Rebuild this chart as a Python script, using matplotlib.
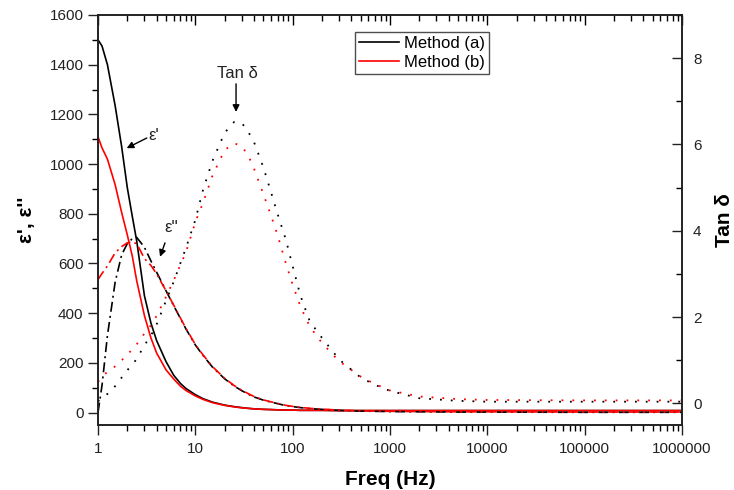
import matplotlib
matplotlib.use('Agg')
import matplotlib.pyplot as plt
from matplotlib.ticker import FixedLocator, FuncFormatter, MultipleLocator, LogLocator, NullFormatter

plt.rcParams['font.family'] = ['Liberation Sans', 'DejaVu Sans']

# frequency grid (Hz)
freq = [1, 1.1, 1.25, 1.5, 1.75, 2, 2.25, 2.5, 3, 3.5, 4, 5, 6, 7, 8, 10, 12, 15, 20, 25,
        30, 35, 40, 50, 60, 70, 85, 100, 120, 150, 200, 300, 500, 700, 1000, 2000, 5000,
        1e4, 1e5, 1e6]

# eps' (real part)
eps1_a = [1500, 1475, 1400, 1235, 1070, 905, 790, 690, 470, 360, 290, 205, 150, 118, 97, 72,
          56, 42, 30, 24, 20, 17, 15, 13, 12, 11, 10, 10, 9, 9, 9, 8, 8, 8, 8, 8, 8, 8, 8, 8]
eps1_b = [1110, 1065, 1020, 917, 805, 715, 630, 530, 390, 300, 240, 172, 135, 107, 89, 67,
          53, 40, 29, 23, 19, 17, 15, 13, 12, 11, 10, 10, 9, 9, 9, 8, 8, 8, 8, 8, 8, 8, 8, 8]

# eps'' (imaginary part)
eps2_a = [0, 110, 310, 525, 635, 680, 700, 705, 665, 610, 565, 490, 430, 380, 337, 272,
          230, 183, 136, 107, 88, 74, 63, 50, 42, 36, 28, 24, 20, 16, 13, 9, 6, 5, 4, 3, 2,
          2, 1, 1]
eps2_b = [535, 560, 590, 643, 668, 683, 686, 680, 620, 592, 558, 490, 432, 382, 339, 274,
          232, 185, 138, 109, 90, 76, 65, 51, 43, 37, 29, 25, 21, 17, 14, 10, 7, 6, 5, 4, 3,
          3, 2, 2]

# tan delta
tan_a = [0.05, 0.12, 0.22, 0.4, 0.6, 0.77, 0.9, 1.03, 1.35, 1.57, 1.83, 2.38, 2.82, 3.24,
         3.6, 4.25, 4.95, 5.62, 6.27, 6.52, 6.5, 6.29, 6.06, 5.47, 4.89, 4.39, 3.8, 3.18,
         2.5, 1.9, 1.52, 1.02, 0.6, 0.43, 0.29, 0.12, 0.06, 0.04, 0.04, 0.04]
tan_b = [0.5, 0.6, 0.74, 0.86, 1.0, 1.12, 1.26, 1.37, 1.62, 1.81, 2.03, 2.47, 2.85, 3.2,
         3.5, 4.2, 4.65, 5.28, 5.87, 6.03, 5.96, 5.74, 5.45, 4.85, 4.35, 3.9, 3.25, 2.75,
         2.25, 1.78, 1.4, 0.98, 0.62, 0.45, 0.3, 0.16, 0.1, 0.08, 0.07, 0.07]

xticks = [1, 10, 100, 1000, 10000, 100000, 1000000]

fig = plt.figure(figsize=(7.34, 4.9), dpi=100)
ax1 = fig.add_axes([98 / 734, 65 / 490, 584 / 734, 410 / 490])
ax2 = ax1.twinx()

red = '#ff0000'
dashdot = (0, (6, 2.5, 1.2, 2.5))
dotted = (0, (1, 5))

la, = ax1.plot(freq, eps1_a, color='black', lw=1.2, label='Method (a)')
lb, = ax1.plot(freq, eps1_b, color=red, lw=1.2, label='Method (b)')
ax1.plot(freq, eps2_a, color='black', lw=1.2, linestyle=dashdot)
ax1.plot(freq, eps2_b, color=red, lw=1.2, linestyle=dashdot)
ax2.plot(freq, tan_a, color='black', lw=1.3, linestyle=dotted)
ax2.plot(freq, tan_b, color=red, lw=1.3, linestyle=dotted)

ax1.set_xscale('log')
ax1.set_xlim(1, 1e6)
ax1.set_ylim(-50, 1600)
ax2.set_ylim(-0.5, 9)

ax1.xaxis.set_major_locator(FixedLocator(xticks))
ax1.xaxis.set_minor_locator(LogLocator(base=10, subs=range(2, 10)))
ax1.xaxis.set_major_formatter(FuncFormatter(lambda v, p: '%d' % round(v)))
ax1.xaxis.set_minor_formatter(NullFormatter())
ax1.yaxis.set_major_locator(MultipleLocator(200))
ax1.yaxis.set_minor_locator(MultipleLocator(100))
ax2.yaxis.set_major_locator(MultipleLocator(2))
ax2.yaxis.set_minor_locator(MultipleLocator(1))

ax1.tick_params(axis='both', which='major', direction='out', length=7, width=1,
                labelsize=11, colors='#222222')
ax1.tick_params(axis='both', which='minor', direction='out', length=4, width=1)
ax1.tick_params(axis='x', pad=5)

# top ticks pointing inward, drawn through the twin axes
ax2.xaxis.set_visible(True)
ax2.xaxis.tick_top()
ax2.tick_params(axis='x', which='major', direction='in', length=7, width=1, labeltop=False)
ax2.tick_params(axis='x', which='minor', direction='in', length=4, width=1)
ax2.tick_params(axis='y', which='major', direction='in', length=7, width=1,
                labelsize=11, colors='#222222', pad=8)
ax2.tick_params(axis='y', which='minor', direction='in', length=4, width=1)

for ax in (ax1, ax2):
    for s in ax.spines.values():
        s.set_linewidth(1.2)
        s.set_color('#222222')

ax1.set_xlabel('Freq (Hz)', fontsize=15, fontweight='bold', labelpad=10)
ax1.set_ylabel("\u03b5', \u03b5''", fontsize=15, fontweight='bold', labelpad=10)
ax2.set_ylabel('Tan \u03b4', fontsize=15, fontweight='bold', labelpad=10)

# annotations
arrow = dict(arrowstyle='-|>', color='black', lw=1, mutation_scale=10, shrinkA=0, shrinkB=0)
ax1.annotate('', xy=(1.97, 1064), xytext=(3.17, 1105), arrowprops=arrow)
ax1.text(3.3, 1115, "\u03b5'", fontsize=12, ha='left', va='center', color='#222222')
ax1.annotate('', xy=(4.34, 627), xytext=(4.88, 683), arrowprops=arrow)
ax1.text(5.7, 744, "\u03b5''", fontsize=12, ha='center', va='center', color='#222222')
ax1.annotate('', xy=(26.2, 1210), xytext=(26.2, 1323), arrowprops=arrow)
ax1.text(26.8, 1365, 'Tan \u03b4', fontsize=12, ha='center', va='center', color='#222222')

leg = ax1.legend(handles=[la, lb], loc='upper left', bbox_to_anchor=(0.44, 0.9585),
                 borderaxespad=0, fontsize=12, frameon=True, fancybox=False,
                 handlelength=2.4, handletextpad=0.3, labelspacing=0.2,
                 borderpad=0.25)
leg.get_frame().set_edgecolor('#222222')
leg.get_frame().set_linewidth(1)

fig.savefig('out.png', dpi=100)
